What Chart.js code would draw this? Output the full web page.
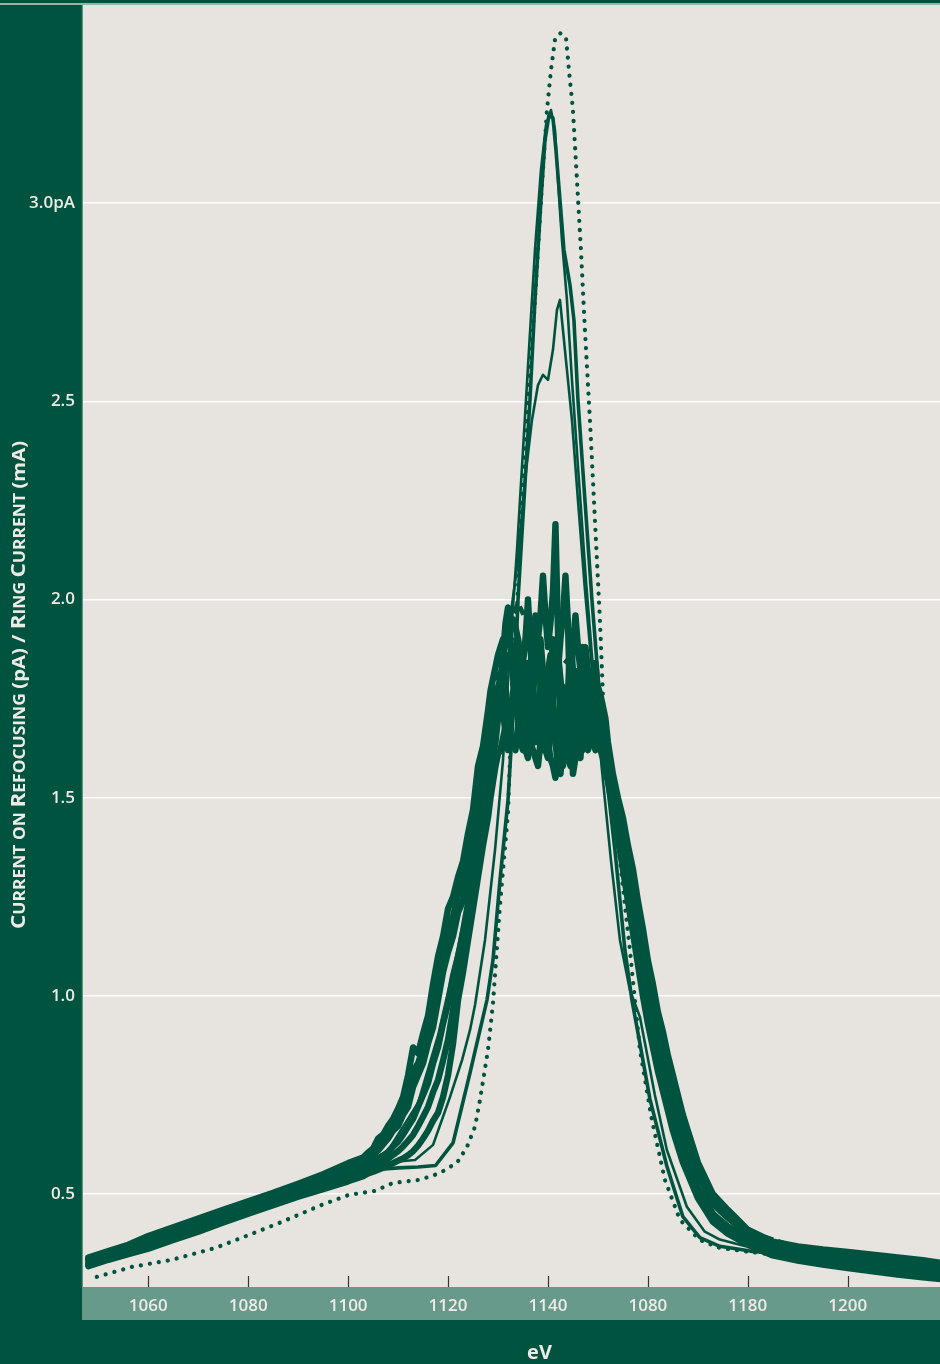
<!DOCTYPE html>
<html>
<head>
<meta charset="utf-8">
<script src="https://cdn.jsdelivr.net/npm/chart.js@4.4.1/dist/chart.umd.min.js"></script>
<style>
  html, body { margin: 0; padding: 0; background: #00533f; }
  canvas { display: block; }
</style>
</head>
<body>
<canvas id="scan" width="940" height="1364"></canvas>
<script>
// Axis ranges and tick labels
const xRange = [1046.93, 1218.47];
const yRange = [0.2654, 3.5];
const xTickValues = [1060, 1080, 1100, 1120, 1140, 1160, 1180, 1200];
const xTickLabels = ['1060', '1080', '1100', '1120', '1140', '1080', '1180', '1200'];
const yTickValues = [0.5, 1.0, 1.5, 2.0, 2.5, 3.0];
const yTickLabels = ['0.5', '1.0', '1.5', '2.0', '2.5', '3.0pA'];

// Shared energy grid (eV) for the repeated scans
const scanEv = [1048, 1052, 1056, 1060, 1065, 1070, 1075, 1080, 1085, 1090, 1095, 1100, 1103,
  1104, 1105, 1106, 1107, 1108, 1109, 1110, 1111, 1112, 1113, 1114, 1115,
  1116, 1117, 1118, 1119, 1120, 1121, 1122, 1123, 1124, 1125, 1126, 1127,
  1128, 1128.5, 1129, 1129.5, 1130, 1130.5, 1131, 1131.5, 1132, 1132.5,
  1133, 1133.5, 1134, 1134.5, 1135, 1135.5, 1136, 1136.5, 1137, 1137.5,
  1138, 1138.5, 1139, 1139.5, 1140, 1140.5, 1141, 1141.5, 1142, 1142.5,
  1143, 1143.5, 1144, 1144.5, 1145, 1145.5, 1146, 1146.5, 1147, 1147.5,
  1148, 1148.5, 1149, 1149.5, 1150, 1150.5, 1151, 1151.5, 1152,
  1153, 1154, 1155, 1156, 1157, 1158, 1159, 1160, 1161, 1162, 1163, 1164,
  1165, 1166, 1167, 1168,
  1170, 1173, 1176, 1180, 1185, 1190, 1195, 1200, 1205, 1210, 1215, 1219];

// Scan 1
const scanA = [0.340, 0.356, 0.372, 0.394, 0.416, 0.438, 0.460, 0.482, 0.503, 0.526, 0.550, 0.578, 0.592,
  0.605, 0.615, 0.640, 0.650, 0.672, 0.690, 0.715, 0.745, 0.800, 0.870, 0.855, 0.905,
  0.950, 1.030, 1.100, 1.150, 1.220, 1.250, 1.300, 1.340, 1.410, 1.470, 1.580, 1.630,
  1.720, 1.770, 1.800, 1.830, 1.860, 1.880, 1.900, 1.890, 1.920, 1.940,
  1.950, 1.930, 1.900, 1.820, 1.760, 1.700, 1.660, 1.700, 1.760, 1.840,
  1.900, 1.960, 2.060, 1.960, 1.880, 1.940, 2.020, 2.190, 1.920, 1.700,
  1.580, 1.620, 1.700, 1.800, 1.880, 1.960, 1.880, 1.820, 1.760, 1.720,
  1.700, 1.760, 1.820, 1.800, 1.780, 1.760, 1.730, 1.700, 1.640,
  1.560, 1.500, 1.450, 1.380, 1.320, 1.240, 1.170, 1.090, 1.030, 0.960, 0.910, 0.850,
  0.800, 0.750, 0.700, 0.660,
  0.580, 0.500, 0.460, 0.410, 0.380, 0.368, 0.360, 0.354, 0.347, 0.340, 0.333, 0.326];

// Scan 2
const scanB = [0.333, 0.349, 0.364, 0.384, 0.406, 0.428, 0.450, 0.472, 0.494, 0.515, 0.537, 0.562, 0.578,
  0.590, 0.600, 0.610, 0.625, 0.640, 0.660, 0.672, 0.700, 0.720, 0.770, 0.800, 0.830,
  0.880, 0.920, 0.990, 1.060, 1.110, 1.150, 1.210, 1.240, 1.310, 1.370, 1.460, 1.540,
  1.630, 1.680, 1.720, 1.760, 1.780, 1.800, 1.820, 1.780, 1.720, 1.660,
  1.640, 1.620, 1.680, 1.760, 1.840, 1.900, 2.000, 1.880, 1.780, 1.720,
  1.680, 1.650, 1.620, 1.640, 1.720, 1.800, 1.900, 1.860, 1.820, 1.900,
  1.960, 2.060, 1.940, 1.700, 1.560, 1.600, 1.700, 1.800, 1.880, 1.820,
  1.760, 1.700, 1.660, 1.680, 1.720, 1.700, 1.660, 1.630, 1.600,
  1.530, 1.470, 1.410, 1.340, 1.270, 1.190, 1.140, 1.050, 0.980, 0.920, 0.860, 0.810,
  0.775, 0.710, 0.665, 0.625,
  0.550, 0.475, 0.440, 0.398, 0.368, 0.355, 0.346, 0.339, 0.331, 0.324, 0.317, 0.311];

// Scan 3
const scanC = [0.326, 0.342, 0.356, 0.374, 0.396, 0.417, 0.440, 0.462, 0.484, 0.505, 0.525, 0.548, 0.562,
  0.575, 0.580, 0.590, 0.596, 0.606, 0.620, 0.632, 0.650, 0.670, 0.690, 0.720, 0.750,
  0.780, 0.830, 0.870, 0.930, 0.980, 1.050, 1.100, 1.160, 1.210, 1.290, 1.370, 1.440,
  1.540, 1.600, 1.650, 1.700, 1.740, 1.760, 1.800, 1.830, 1.860, 1.840,
  1.870, 1.880, 1.900, 1.860, 1.780, 1.700, 1.660, 1.640, 1.620, 1.600,
  1.580, 1.640, 1.720, 1.780, 1.820, 1.860, 1.760, 1.640, 1.580, 1.560,
  1.640, 1.700, 1.760, 1.920, 1.820, 1.760, 1.700, 1.660, 1.620, 1.660,
  1.740, 1.800, 1.820, 1.840, 1.760, 1.680, 1.640, 1.600, 1.570,
  1.500, 1.430, 1.370, 1.290, 1.220, 1.140, 1.060, 0.990, 0.930, 0.860, 0.830, 0.760,
  0.710, 0.665, 0.620, 0.585,
  0.515, 0.450, 0.418, 0.385, 0.355, 0.342, 0.332, 0.324, 0.316, 0.308, 0.301, 0.296];

// Scan 4
const scanD = [0.318, 0.334, 0.348, 0.362, 0.384, 0.405, 0.428, 0.450, 0.472, 0.493, 0.512, 0.532, 0.545,
  0.552, 0.556, 0.561, 0.566, 0.572, 0.578, 0.584, 0.590, 0.598, 0.608, 0.622, 0.640,
  0.660, 0.685, 0.705, 0.745, 0.800, 0.880, 0.990, 1.060, 1.140, 1.220, 1.300, 1.380,
  1.450, 1.500, 1.540, 1.580, 1.610, 1.620, 1.650, 1.680, 1.690, 1.700,
  1.740, 1.760, 1.780, 1.720, 1.660, 1.620, 1.600, 1.680, 1.780, 1.860,
  1.880, 1.900, 1.820, 1.700, 1.640, 1.600, 1.580, 1.550, 1.600, 1.660,
  1.680, 1.640, 1.620, 1.700, 1.760, 1.820, 1.760, 1.700, 1.660, 1.640,
  1.620, 1.640, 1.700, 1.660, 1.640, 1.620, 1.600, 1.570, 1.540,
  1.470, 1.400, 1.320, 1.240, 1.160, 1.080, 1.000, 0.930, 0.870, 0.810, 0.760, 0.710,
  0.660, 0.620, 0.580, 0.550,
  0.490, 0.430, 0.400, 0.372, 0.345, 0.332, 0.322, 0.313, 0.305, 0.297, 0.290, 0.285];

// Scan 5
const scanE = [0.336, 0.352, 0.368, 0.389, 0.411, 0.433, 0.455, 0.477, 0.498, 0.520, 0.543, 0.570, 0.585,
  0.598, 0.607, 0.625, 0.638, 0.655, 0.675, 0.693, 0.722, 0.760, 0.810, 0.830, 0.868,
  0.915, 0.975, 1.045, 1.100, 1.165, 1.200, 1.255, 1.290, 1.360, 1.420, 1.520, 1.590,
  1.680, 1.740, 1.700, 1.660, 1.720, 1.800, 1.860, 1.940, 1.980, 1.900,
  1.800, 1.740, 1.700, 1.640, 1.620, 1.660, 1.740, 1.820, 1.900, 1.960,
  1.880, 1.780, 1.700, 1.620, 1.600, 1.660, 1.740, 1.800, 1.860, 1.800,
  1.740, 1.660, 1.600, 1.580, 1.640, 1.700, 1.740, 1.780, 1.840, 1.880,
  1.820, 1.760, 1.720, 1.700, 1.660, 1.700, 1.680, 1.640, 1.620,
  1.545, 1.485, 1.430, 1.360, 1.295, 1.215, 1.150, 1.070, 1.005, 0.940, 0.885, 0.830,
  0.780, 0.730, 0.680, 0.642,
  0.565, 0.488, 0.450, 0.404, 0.374, 0.362, 0.353, 0.346, 0.339, 0.332, 0.325, 0.318];

// Scan 6
const scanF = [0.322, 0.338, 0.352, 0.368, 0.390, 0.411, 0.434, 0.456, 0.478, 0.499, 0.518, 0.540, 0.553,
  0.563, 0.568, 0.575, 0.581, 0.589, 0.599, 0.608, 0.620, 0.634, 0.649, 0.671, 0.695,
  0.720, 0.757, 0.788, 0.837, 0.890, 0.965, 1.045, 1.110, 1.175, 1.255, 1.335, 1.410,
  1.500, 1.560, 1.600, 1.640, 1.700, 1.760, 1.720, 1.660, 1.620, 1.680,
  1.760, 1.840, 1.820, 1.760, 1.700, 1.780, 1.840, 1.780, 1.700, 1.640,
  1.700, 1.780, 1.720, 1.660, 1.700, 1.760, 1.700, 1.640, 1.680, 1.740,
  1.780, 1.700, 1.660, 1.600, 1.660, 1.700, 1.640, 1.600, 1.700, 1.780,
  1.720, 1.680, 1.640, 1.620, 1.680, 1.660, 1.620, 1.590, 1.560,
  1.485, 1.415, 1.345, 1.265, 1.190, 1.110, 1.030, 0.960, 0.900, 0.835, 0.785, 0.735,
  0.685, 0.642, 0.600, 0.568,
  0.502, 0.440, 0.409, 0.378, 0.350, 0.337, 0.327, 0.318, 0.310, 0.302, 0.295, 0.290];

// Dashed scan
const dashEv = [1048, 1060, 1070, 1080, 1090, 1100, 1106, 1110, 1114, 1118,
  1122, 1125, 1128, 1130, 1132, 1134, 1136, 1138, 1140, 1142,
  1144, 1146, 1148, 1150, 1152, 1154, 1156, 1158, 1160, 1162,
  1164, 1166, 1168, 1170, 1173, 1176, 1180, 1190, 1200, 1210, 1219];
const dashPa = [0.338, 0.388, 0.430, 0.474, 0.516, 0.564, 0.610, 0.680, 0.800, 1.020,
  1.260, 1.460, 1.660, 1.820, 1.930, 1.990, 1.940, 1.880, 1.900, 1.860,
  1.840, 1.800, 1.760, 1.720, 1.620, 1.480, 1.360, 1.210, 1.070, 0.940,
  0.830, 0.730, 0.640, 0.560, 0.485, 0.445, 0.405, 0.365, 0.347, 0.332, 0.318];

// Refocused scan, highest solid peak
const peak1Ev = [1048, 1060, 1070, 1080, 1090, 1100, 1106, 1110, 1114, 1117.5,
  1121.0, 1124.4, 1127.8, 1129.0, 1130.4, 1132.0, 1133.2, 1134.0, 1135.2, 1136.4,
  1137.4, 1138.6, 1139.4, 1140.2, 1141.0, 1141.6, 1142.4, 1143.2, 1144.4, 1145.2,
  1146.0, 1147.4, 1148.8, 1150.4, 1151.8, 1153.4, 1155.4, 1156.8, 1158.4, 1160.4,
  1163.8, 1167.0, 1170.4, 1174.4, 1180.5, 1190, 1200, 1210, 1219];
const peak1Pa = [0.326, 0.372, 0.414, 0.458, 0.500, 0.540, 0.562, 0.566, 0.568, 0.572,
  0.629, 0.806, 0.990, 1.091, 1.293, 1.494, 1.747, 1.999, 2.251, 2.504,
  2.756, 3.008, 3.159, 3.222, 3.215, 3.134, 3.008, 2.882, 2.794, 2.705,
  2.504, 2.251, 1.999, 1.747, 1.545, 1.368, 1.116, 0.990, 0.880, 0.740,
  0.570, 0.443, 0.390, 0.368, 0.356, 0.345, 0.333, 0.318, 0.300];

// Refocused scan, second solid peak
const peak2Ev = [1048, 1060, 1070, 1080, 1090, 1100, 1106, 1110, 1113.4, 1117.0,
  1120.4, 1122.8, 1124.4, 1125.4, 1127.4, 1129.4, 1131.0, 1132.4, 1133.8, 1135.0,
  1136.2, 1137.4, 1138.6, 1139.6, 1140.6, 1141.4, 1142.0, 1142.8, 1143.8, 1144.8,
  1146.2, 1147.6, 1149.2, 1150.8, 1152.6, 1154.4, 1156.4, 1158.4, 1161.4, 1163.8,
  1167.8, 1171.4, 1174.4, 1179.4, 1190, 1200, 1210, 1219];
const peak2Pa = [0.330, 0.378, 0.420, 0.462, 0.504, 0.548, 0.572, 0.582, 0.586, 0.624,
  0.745, 0.838, 0.914, 0.977, 1.141, 1.368, 1.595, 1.873, 2.125, 2.377,
  2.630, 2.882, 3.084, 3.197, 3.235, 3.185, 3.059, 2.907, 2.756, 2.554,
  2.302, 2.049, 1.797, 1.570, 1.343, 1.141, 1.015, 0.947, 0.750, 0.611,
  0.468, 0.405, 0.385, 0.369, 0.350, 0.338, 0.325, 0.305];

// Refocused scan, lower solid peak
const peak3Ev = [1048, 1060, 1080, 1100, 1108, 1114, 1118, 1122, 1126, 1130,
  1132.4, 1134.0, 1135.4, 1136.8, 1138.0, 1139.0, 1140.0, 1141.0, 1141.8, 1142.4,
  1143.0, 1143.8, 1144.8, 1146.0, 1147.4, 1149.0, 1150.4, 1152, 1154, 1158,
  1162, 1166, 1170, 1176, 1185, 1200, 1219];
const peak3Pa = [0.330, 0.380, 0.465, 0.552, 0.610, 0.730, 0.900, 1.120, 1.400, 1.700,
  1.949, 2.100, 2.302, 2.453, 2.541, 2.567, 2.554, 2.630, 2.731, 2.756,
  2.680, 2.579, 2.453, 2.251, 2.024, 1.797, 1.621, 1.540, 1.400, 1.090,
  0.840, 0.640, 0.500, 0.415, 0.365, 0.330, 0.300];

// Dotted scan with the tallest peak
const dotEv = [1049.7, 1056.7, 1064.7, 1073.4, 1080.2, 1086.8, 1094.8, 1100.2, 1105.4, 1109.0,
  1114.4, 1118.4, 1121.8, 1123.8, 1125.4, 1126.4, 1128.0, 1129.0, 1130.4, 1132.0,
  1132.4, 1132.8, 1133.8, 1134.8, 1136.0, 1137.4, 1138.6, 1139.8, 1140.6, 1141.4,
  1142.4, 1143.6, 1144.2, 1145.0, 1145.8, 1146.6, 1147.4, 1148.4, 1149.4, 1150.4,
  1151.2, 1152.4, 1154.4, 1156.4, 1158.4, 1160.8, 1163.4, 1166.4, 1170.4, 1174.4,
  1180.4, 1190, 1200, 1210, 1218];
const dotPa = [0.291, 0.316, 0.334, 0.364, 0.397, 0.430, 0.473, 0.498, 0.508, 0.528,
  0.536, 0.553, 0.579, 0.619, 0.670, 0.738, 0.864, 0.982, 1.230, 1.462,
  1.600, 1.780, 1.980, 2.251, 2.504, 2.756, 3.008, 3.235, 3.336, 3.412,
  3.429, 3.419, 3.336, 3.235, 3.059, 2.882, 2.680, 2.453, 2.201, 1.949,
  1.696, 1.520, 1.343, 1.116, 0.864, 0.687, 0.536, 0.435, 0.384, 0.364,
  0.354, 0.340, 0.327, 0.314, 0.300];

const INK = '#00543f';
const PANEL = '#00533f';
const PLOT_BG = '#e7e3df';
const BAND = '#689a8b';
const LABEL = '#eeeae6';

const pts = (ev, val) => ev.map((e, i) => ({ x: e, y: val[i] }));
const line = (data, width, extra) => Object.assign({
  data, borderColor: INK, borderWidth: width, pointRadius: 0,
  tension: 0, fill: false, borderJoinStyle: 'round', borderCapStyle: 'round'
}, extra || {});

const frame = {
  id: 'frame',
  beforeDraw(chart) {
    const { ctx, chartArea: a, width, height } = chart;
    ctx.save();
    ctx.fillStyle = PANEL;
    ctx.fillRect(0, 0, width, height);
    ctx.fillStyle = '#dcdad6';
    ctx.fillRect(0, 3.3, width, 1.4);
    ctx.fillStyle = PLOT_BG;
    ctx.fillRect(a.left, a.top, a.right - a.left, a.bottom - a.top);
    ctx.fillStyle = BAND;
    ctx.fillRect(a.left - 1, a.bottom, a.right - a.left + 1, 33);
    ctx.strokeStyle = '#5f9484';
    ctx.lineWidth = 1.2;
    ctx.beginPath();
    ctx.moveTo(a.left - 0.6, a.top);
    ctx.lineTo(a.left - 0.6, a.bottom);
    ctx.stroke();
    ctx.restore();
  },
  afterDatasetsDraw(chart) {
    const { ctx, chartArea: a } = chart;
    const xs = chart.scales.x;
    ctx.save();
    ctx.strokeStyle = '#2e3a36';
    ctx.lineWidth = 1.2;
    xTickValues.forEach(v => {
      const px = Math.round(xs.getPixelForValue(v)) + 0.5;
      ctx.beginPath();
      ctx.moveTo(px, a.bottom - 11);
      ctx.lineTo(px, a.bottom);
      ctx.stroke();
    });
    ctx.restore();
  },
  afterDraw(chart) {
    const { ctx } = chart;
    ctx.save();
    ctx.fillStyle = LABEL;
    // x axis title
    ctx.font = 'bold 20px "Open Sans"';
    ctx.textAlign = 'center';
    ctx.textBaseline = 'alphabetic';
    ctx.fillText('eV', 539.5, 1359);
    // y axis title in small capitals
    const big = 'bold 20px "Open Sans"';
    const small = 'bold 15.5px "Open Sans"';
    const paren = 'bold 18px "Open Sans"';
    const parts = [
      ['C', big], ['URRENT ON ', small], ['R', big], ['EFOCUSING ', small],
      ['(pA) / ', paren], ['R', big], ['ING ', small], ['C', big],
      ['URRENT ', small], ['(mA)', paren]
    ];
    let total = 0;
    parts.forEach(p => { ctx.font = p[1]; total += ctx.measureText(p[0]).width; });
    const span = 488;
    ctx.translate(17, 685);
    ctx.rotate(-Math.PI / 2);
    ctx.scale(span / total, 1);
    ctx.textAlign = 'left';
    let x = -total / 2;
    parts.forEach(p => {
      ctx.font = p[1];
      ctx.fillText(p[0], x, 8);
      x += ctx.measureText(p[0]).width;
    });
    ctx.restore();
  }
};

const tickFont = { family: 'Open Sans', size: 17, weight: '600' };

new Chart(document.getElementById('scan'), {
  type: 'line',
  data: {
    datasets: [
      line(pts(dotEv, dotPa), 4.2, { borderDash: [0.1, 9] }),
      line(pts(peak1Ev, peak1Pa), 3.6),
      line(pts(peak2Ev, peak2Pa), 2.6),
      line(pts(peak3Ev, peak3Pa), 2.6),
      line(pts(dashEv, dashPa), 4.8, { borderDash: [9, 5], borderCapStyle: 'butt' }),
      line(pts(scanEv, scanA), 6.4),
      line(pts(scanEv, scanB), 6.4),
      line(pts(scanEv, scanC), 6.4),
      line(pts(scanEv, scanD), 6.4),
      line(pts(scanEv, scanE), 6.4),
      line(pts(scanEv, scanF), 6.4)
    ]
  },
  options: {
    responsive: false,
    animation: false,
    devicePixelRatio: 1,
    layout: { padding: { top: 5, right: 0, left: 0, bottom: 0 } },
    plugins: { legend: { display: false }, tooltip: { enabled: false } },
    scales: {
      x: {
        type: 'linear',
        min: xRange[0],
        max: xRange[1],
        afterBuildTicks: s => { s.ticks = xTickValues.map(v => ({ value: v })); },
        afterFit: s => { s.height = 77; s.paddingLeft = 0; s.paddingRight = 0; },
        grid: { display: false, drawTicks: false },
        border: { display: false },
        ticks: {
          padding: 9,
          color: LABEL,
          font: tickFont,
          maxRotation: 0,
          autoSkip: false,
          callback: (v, i) => xTickLabels[i]
        }
      },
      y: {
        type: 'linear',
        min: yRange[0],
        max: yRange[1],
        afterBuildTicks: s => { s.ticks = yTickValues.map(v => ({ value: v })); },
        afterFit: s => { s.width = 83; s.paddingTop = 0; s.paddingBottom = 0; },
        grid: { color: '#ffffff', lineWidth: 1.6, drawTicks: false },
        border: { display: false },
        ticks: {
          padding: 8,
          color: LABEL,
          font: tickFont,
          autoSkip: false,
          callback: (v, i) => yTickLabels[i]
        }
      }
    }
  },
  plugins: [frame]
});
</script>
</body>
</html>
